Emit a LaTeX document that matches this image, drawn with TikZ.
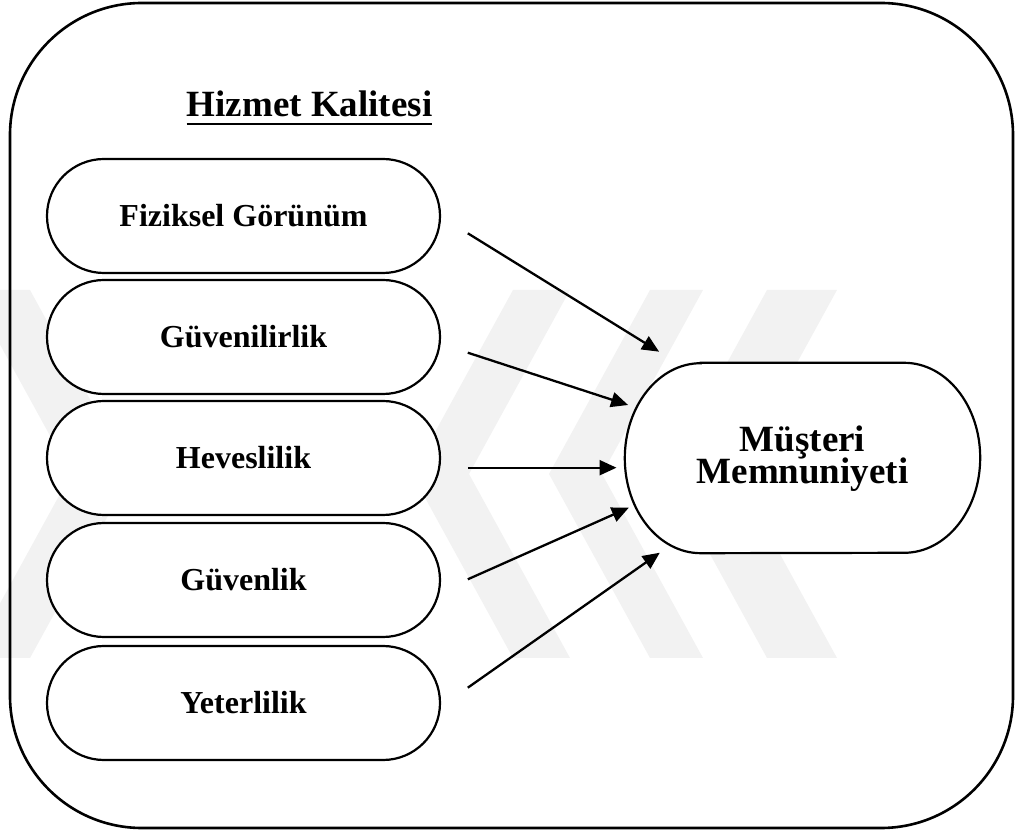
\documentclass[tikz,border=0pt]{standalone}
\usepackage{fontspec}
\setmainfont{Liberation Serif}
\usetikzlibrary{arrows.meta}
\pgfdeclarelayer{wmk}
\pgfdeclarelayer{bg}
\pgfsetlayers{wmk,bg,main}
\newcommand\twolines[2]{\vbox{\baselineskip=32pt\lineskiplimit=-40pt\relax
  \hbox to 230pt{\hss #1\hss}\hbox to 230pt{\hss #2\hss}}}
\begin{document}
\begin{tikzpicture}[x=1pt,y=1pt,
  box/.style={draw, line width=2.2pt, fill=white, rounded corners=57pt,
    minimum width=393pt, minimum height=114pt, inner sep=0pt,
    font=\fontsize{32}{34}\selectfont\bfseries, text height=22pt, text depth=1pt},
  arr/.style={line width=2.3pt, -{Triangle[length=17pt,width=15pt]}},
  wm/.style={fill=black!5, draw=none}]
\useasboundingbox (0,0) rectangle (1017,830);
% watermark
\begin{pgfonlayer}{wmk}
\fill[wm] (-30,540) -- (30,540) -- (131,356) -- (30,172) -- (-30,172) -- (71,356) -- cycle;
\fill[wm] (513,540) -- (570,540) -- (469,356) -- (570,172) -- (513,172) -- (412,356) -- cycle;
\fill[wm] (650,540) -- (703,540) -- (602,356) -- (703,172) -- (650,172) -- (549,356) -- cycle;
\fill[wm] (767,540) -- (837,540) -- (736,356) -- (837,172) -- (767,172) -- (666,356) -- cycle;
\end{pgfonlayer}
% outer frame
\draw[line width=2.6pt, rounded corners=132pt] (10,2) rectangle (1013,827);
% title
\node[anchor=base, inner sep=0pt, font=\fontsize{37}{40}\selectfont\bfseries] (title) at (309.5,713.3) {Hizmet Kalitesi};
\draw[line width=2.7pt] ([yshift=-7.3pt]title.base west) -- ([yshift=-7.3pt]title.base east);
% dimension boxes
\node[box] (b1) at (243.5,614) {Fiziksel Görünüm};
\node[box] (b2) at (243.5,493) {Güvenilirlik};
\node[box] (b3) at (243.5,372) {Heveslilik};
\node[box] (b4) at (243.5,250) {Güvenlik};
\node[box] (b5) at (243.5,127) {Yeterlilik};
% outcome
\node[inner sep=0pt, minimum width=355pt, minimum height=190pt,
  font=\fontsize{37}{32}\selectfont\bfseries,
  text height=58pt, text depth=7.4pt] (m) at (802.5,372) {\twolines{Müşteri}{Memnuniyeti}};
\begin{pgfonlayer}{bg}
\draw[line width=2.2pt, fill=white] ([xshift=76pt]m.north west) -- ([xshift=-76pt]m.north east)
  arc[start angle=90, end angle=-90, x radius=76pt, y radius=95pt]
  -- ([xshift=76pt]m.south west)
  arc[start angle=270, end angle=90, x radius=76pt, y radius=95pt] -- cycle;
\end{pgfonlayer}
% arrows
\draw[arr] ([shift={(26.7,-17.3)}]b1.east) -- ([shift={(34.3,106.3)}]m.west);
\draw[arr] ([shift={(26.7,-15.7)}]b2.east) -- ([shift={(3.3,53)}]m.west);
\draw[arr] ([shift={(26.7,-9.7)}]b3.east) -- ([shift={(-8.3,-9.7)}]m.west);
\draw[arr] ([shift={(26.7,0.7)}]b4.east) -- ([shift={(4,-49.7)}]m.west);
\draw[arr] ([shift={(26.7,15.3)}]b5.east) -- ([shift={(35,-94.7)}]m.west);
\end{tikzpicture}
\end{document}
